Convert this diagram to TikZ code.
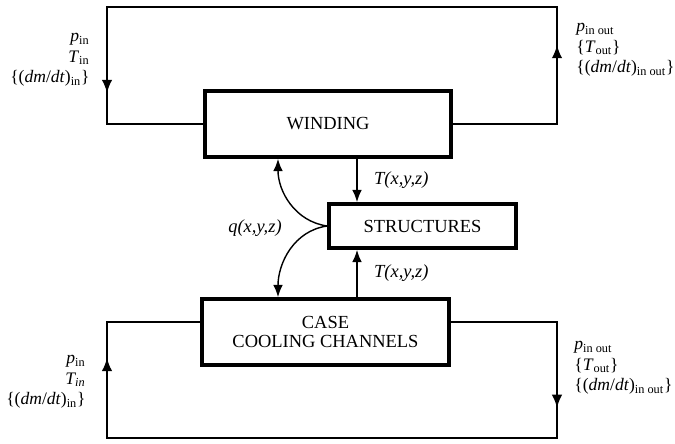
\documentclass[tikz,border=0pt]{standalone}
\usepackage{fontspec}
\setmainfont{Liberation Serif}
\usetikzlibrary{arrows.meta,decorations.markings}

\newcommand{\inout}{in\kern0.25em out}

\begin{document}
\begin{tikzpicture}[x=0.02cm,y=-0.02cm,
  font=\fontsize{10.5}{11.6}\selectfont,
  block/.style={draw, line width=2.1pt, align=center, inner sep=0pt},
  flow/.style={line width=1.1pt},
  side/.style={font=\fontsize{10}{11.6}\selectfont, inner sep=0pt},
  link/.style={line width=0.8pt, -{Latex[length=7pt,width=5.5pt]}},
  arrowat/.style={postaction={decorate}, decoration={markings,
      mark=at position #1 with {\arrow{Latex[length=7.5pt,width=6pt]}}}}]
  \useasboundingbox (0,0) rectangle (675,443);

  % blocks
  \node [block, minimum width=4.92cm, minimum height=1.32cm] (winding) at (328,124) {WINDING};
  \node [block, minimum width=3.74cm, minimum height=0.88cm] (structures) at (422.5,226) {STRUCTURES};
  \node [block, minimum width=4.94cm, minimum height=1.32cm, font=\fontsize{10.5}{10.8}\selectfont] (case) at (325.5,332) {CASE\\COOLING CHANNELS};

  % loop corners and helper columns
  \coordinate (tl) at (107,7);
  \coordinate (tr) at (557,7);
  \coordinate (bl) at (107,438);
  \coordinate (br) at (557,438);
  \coordinate (tcol) at (357,0);
  \coordinate (qcol) at (278,0);
  \coordinate (caseport) at ([yshift=0.2cm]case.west);
  \coordinate (caseportr) at ([yshift=0.2cm]case.east);

  % winding loop
  \draw [flow] (winding.west) -| (tl) -- (tr) |- (winding.east);
  \draw [flow, arrowat=0.735] (tl) -- (winding.west -| tl);
  \draw [flow, arrowat=0.675] (winding.east -| tr) -- (tr);

  % case loop
  \draw [flow] (caseport) -| (bl) -- (br) |- (caseportr);
  \draw [flow, arrowat=0.69] (bl) -- (caseport -| bl);
  \draw [flow, arrowat=0.74] (caseportr -| br) -- (br);

  % heat and temperature exchange
  \draw [link] (winding.south -| tcol) -- (structures.north -| tcol);
  \draw [link] (case.north -| tcol) -- (structures.south -| tcol);
  \draw [link] (structures.west) to [out=172, in=-90] (winding.south -| qcol);
  \draw [link] (structures.west) to [out=188, in=90] (case.north -| qcol);

  % labels
  \node [anchor=west] (tw) at (368,180) {\textit{T(x,y,z)}};
  \node [anchor=west] (tc) at (368,273) {\textit{T(x,y,z)}};
  \node (q) at (255,228) {\textit{q(x,y,z)}};
  \node [side, anchor=east, align=right] (intop) at (90,60)
    {\textit{p}\textsubscript{in}\\\textit{T}\textsubscript{in}\\\{(\textit{dm}/\textit{dt})\textsubscript{in}\}};
  \node [side, anchor=west, align=left] (outtop) at (576,50)
    {\textit{p}\textsubscript{\inout}\\\{\textit{T}\textsubscript{out}\}\\\{(\textit{dm}/\textit{dt})\textsubscript{\inout}\}};
  \node [side, anchor=east, align=right] (inbot) at (86,382)
    {\textit{p}\textsubscript{in}\\\textit{T\textsubscript{in}}\\\{(\textit{dm}/\textit{dt})\textsubscript{in}\}};
  \node [side, anchor=west, align=left] (outbot) at (574,368)
    {\textit{p}\textsubscript{\inout}\\\{\textit{T}\textsubscript{out}\}\\\{(\textit{dm}/\textit{dt})\textsubscript{\inout}\}};
\end{tikzpicture}
\end{document}
